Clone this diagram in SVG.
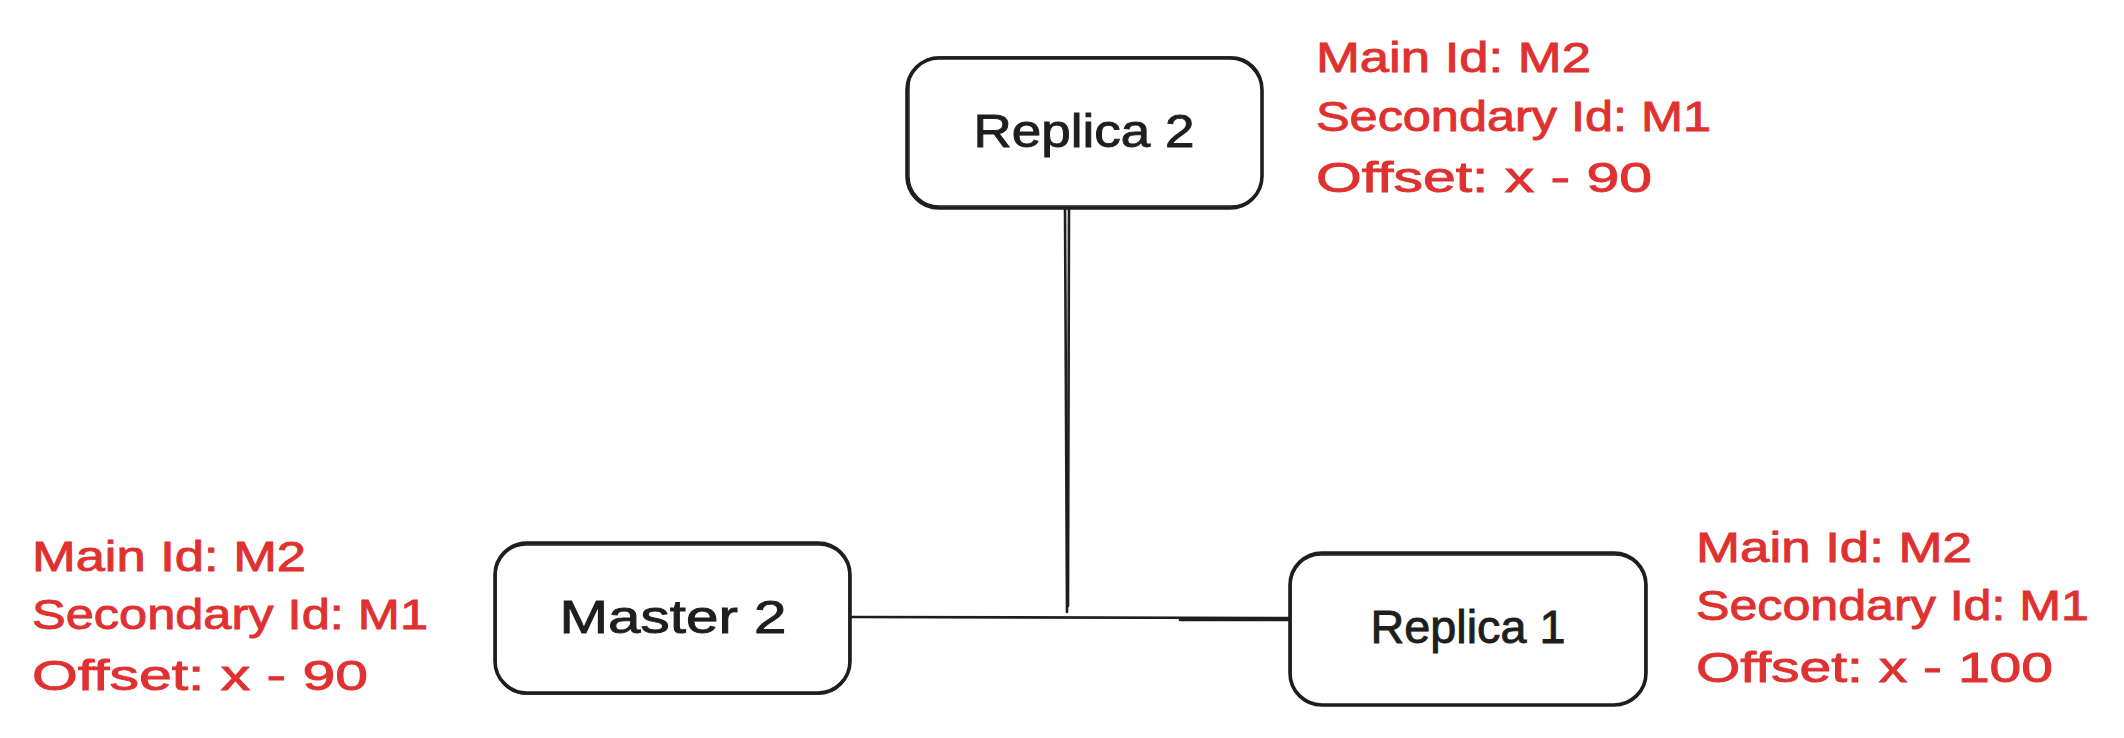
<svg xmlns="http://www.w3.org/2000/svg" width="2124" height="738" viewBox="0 0 2124 738">
<style>
.box{fill:#ffffff;stroke:#1e1e1e;stroke-width:3.6;}
.box2{fill:none;stroke:#1e1e1e;stroke-width:1.4;}
.lbl{font-family:"Liberation Sans",Arial,sans-serif;font-size:46px;fill:#1e1e1e;stroke:#1e1e1e;stroke-width:0.9;}
.note{font-family:"Liberation Sans",Arial,sans-serif;font-size:42px;fill:#e03131;stroke:#e03131;stroke-width:0.9;}
.wire{fill:none;stroke:#1e1e1e;stroke-width:2.6;stroke-linecap:round;}
</style>
<rect width="2124" height="738" fill="#ffffff"/>
<g id="connectors">
<path class="wire" d="M1065 208 L1067 612"/>
<path class="wire" d="M1069 208 L1068 606" stroke-width="1.6"/>
<path class="wire" d="M852 617 L1290 618"/>
<path class="wire" d="M1180 620 L1290 620" stroke-width="1.6"/>
</g>
<g id="replica2">
<rect class="box" x="907" y="58" width="355" height="150" rx="32"/>
<rect class="box2" x="909" y="57" width="353" height="149" rx="30"/>
<text class="lbl" x="1084" y="147" text-anchor="middle" textLength="221" lengthAdjust="spacingAndGlyphs">Replica 2</text>
</g>
<g id="master2">
<rect class="box" x="495" y="543" width="355" height="150" rx="32"/>
<rect class="box2" x="496" y="545" width="353" height="149" rx="30"/>
<text class="lbl" x="673" y="633" text-anchor="middle" textLength="227" lengthAdjust="spacingAndGlyphs">Master 2</text>
</g>
<g id="replica1">
<rect class="box" x="1290" y="553" width="356" height="152" rx="32"/>
<rect class="box2" x="1291" y="555" width="354" height="150" rx="30"/>
<text class="lbl" x="1468" y="643" text-anchor="middle" textLength="195" lengthAdjust="spacingAndGlyphs">Replica 1</text>
</g>
<g id="note-replica2">
<text class="note" x="1316" y="72" textLength="275" lengthAdjust="spacingAndGlyphs">Main Id: M2</text>
<text class="note" x="1316" y="131" textLength="395" lengthAdjust="spacingAndGlyphs">Secondary Id: M1</text>
<text class="note" x="1316" y="192" textLength="336" lengthAdjust="spacingAndGlyphs">Offset: x - 90</text>
</g>
<g id="note-master2">
<text class="note" x="32" y="571" textLength="274" lengthAdjust="spacingAndGlyphs">Main Id: M2</text>
<text class="note" x="32" y="629" textLength="396" lengthAdjust="spacingAndGlyphs">Secondary Id: M1</text>
<text class="note" x="32" y="690" textLength="336" lengthAdjust="spacingAndGlyphs">Offset: x - 90</text>
</g>
<g id="note-replica1">
<text class="note" x="1696" y="562" textLength="276" lengthAdjust="spacingAndGlyphs">Main Id: M2</text>
<text class="note" x="1696" y="620" textLength="393" lengthAdjust="spacingAndGlyphs">Secondary Id: M1</text>
<text class="note" x="1696" y="682" textLength="357" lengthAdjust="spacingAndGlyphs">Offset: x - 100</text>
</g>
</svg>
